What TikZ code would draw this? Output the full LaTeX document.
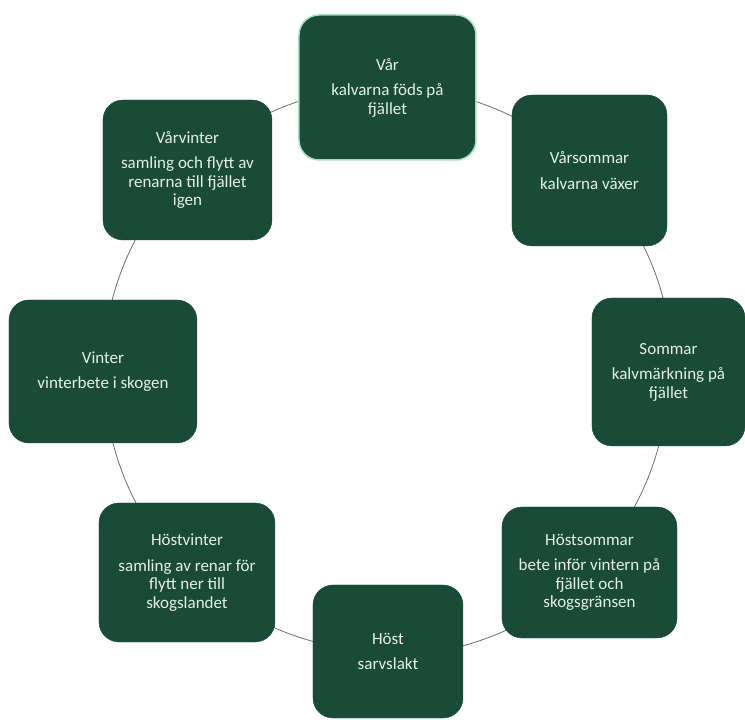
\documentclass[tikz,border=0pt]{standalone}
\usepackage{fontspec}
\setmainfont{Carlito}
\usetikzlibrary{positioning, backgrounds}
\definecolor{renGreen}{HTML}{1A4B38}
\definecolor{renMint}{HTML}{A3DEC0}
\definecolor{renText}{HTML}{E4EFE8}
\definecolor{renLink}{HTML}{6E6E6E}

\begin{document}
\begin{tikzpicture}[
    x=1pt, y=1pt,
    every node/.style={font=\fontsize{17}{18.5}\selectfont},
    season/.style={draw=renGreen, fill=renGreen, text=renText,
                   rounded corners=20pt, align=center, inner sep=4pt},
    link/.style={draw=renLink, line width=0.8pt},
  ]
  \useasboundingbox (-388,-348) rectangle (357,372);

  % the eight seasons, clockwise from the top
  \node[season, draw=renMint, line width=1.5pt,
        minimum width=177pt, minimum height=145pt] (var) at (-0.5,284.5)
    {Vår\\[7pt]kalvarna föds på\\fjället};
  \node[season, minimum width=155pt, minimum height=151pt] (varsommar) at (201.5,201.5)
    {Vårsommar\\[7pt]kalvarna växer};
  \node[season, minimum width=153pt, minimum height=148pt] (sommar) at (280.5,0)
    {Sommar\\[7pt]kalvmärkning på\\fjället};
  \node[season, minimum width=175pt, minimum height=131pt] (hostsommar) at (201.5,-200.5)
    {Höstsommar\\[7pt]bete inför vintern på\\fjället och\\skogsgränsen};
  \node[season, minimum width=150pt, minimum height=133pt] (host) at (0,-279.5)
    {Höst\\[7pt]sarvslakt};
  \node[season, minimum width=176pt, minimum height=139pt] (hostvinter) at (-201,-200.5)
    {Höstvinter\\[7pt]samling av renar för\\flytt ner till\\skogslandet};
  \node[season, minimum width=188pt, minimum height=143pt] (vinter) at (-285,0.5)
    {Vinter\\[7pt]vinterbete i skogen};
  \node[season, minimum width=169pt, minimum height=140pt] (varvinter) at (-200.5,202)
    {Vårvinter\\[7pt]samling och flytt av\\renarna till fjället\\igen};

  % arcs of the year cycle, behind the boxes
  \begin{pgfonlayer}{background}
    \foreach \a/\s in {var/90, varsommar/45, sommar/0, hostsommar/-45,
                       host/-90, hostvinter/-135, vinter/180, varvinter/135}
      \draw[link] (\a.center) arc[start angle=\s, delta angle=-45, radius=284];
  \end{pgfonlayer}
\end{tikzpicture}
\end{document}
